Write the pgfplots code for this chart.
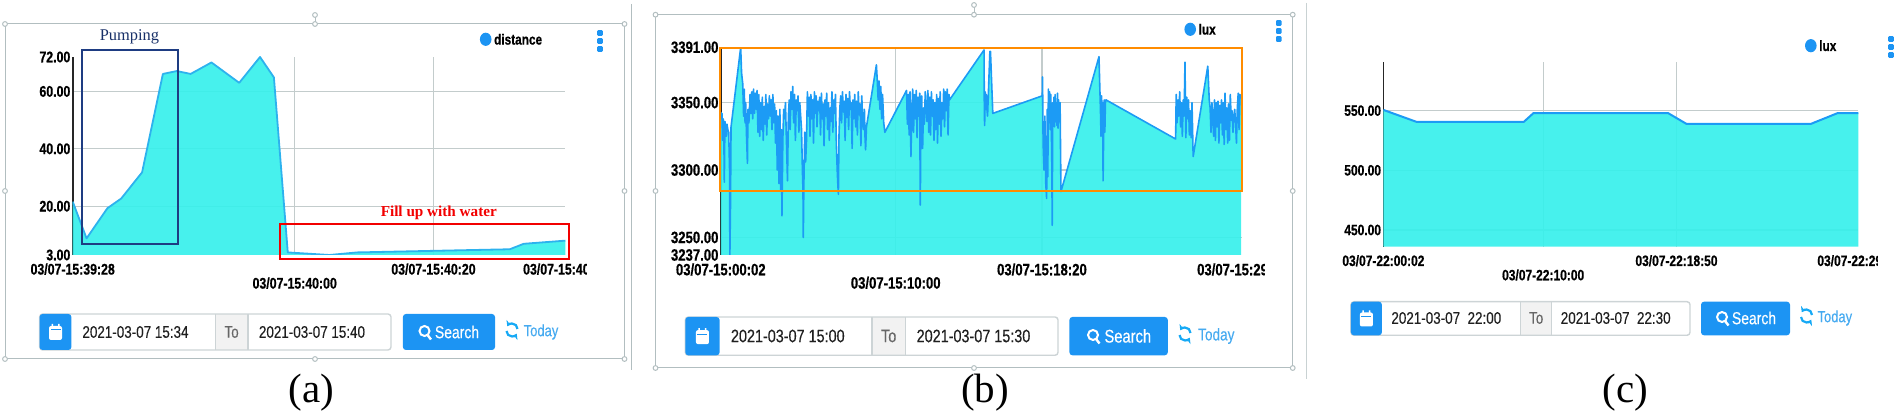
\documentclass[border=0pt]{standalone}
\usepackage{fontspec}
\usepackage{pgfplots}
\usepackage{pgfplotstable}
\pgfplotsset{compat=1.18}
\usetikzlibrary{arrows.meta}
\setmainfont{Liberation Serif}
\newfontfamily\ui[FakeStretch=0.8,FakeBold=0.25]{Liberation Sans}
\newfontfamily\uib[FakeStretch=0.8,BoldFeatures={FakeBold=0.6}]{Liberation Sans}
\definecolor{areafill}{RGB}{55,240,235}
\definecolor{lineb}{RGB}{28,155,245}
\definecolor{linea}{RGB}{45,178,238}
\definecolor{uiblue}{RGB}{28,148,243}
\definecolor{todayblue}{RGB}{70,170,240}
\definecolor{gridc}{RGB}{195,204,204}
\definecolor{framec}{RGB}{178,190,192}
\definecolor{borderc}{RGB}{205,212,214}
\definecolor{pumpc}{RGB}{30,60,130}

\pgfplotstableread[row sep=crcr]{
x y\\
0 21.6\\2 8.8\\5 19.3\\7 22.7\\10 31.8\\13 66.1\\15 67.1\\17 66.1\\20 70.1\\24 63.0\\27 72\\29 64.9\\31 3.9\\37 3\\41 3.9\\63 5.0\\65 6.9\\71 8.0\\
}\distancedata

\pgfplotstableread[row sep=crcr]{
x y\\
0 3343\\2 3338\\4 3342\\6 3322\\8 3338\\10 3335\\12 3291\\14 3336\\17 3331\\19 3325\\21 3334\\24 3330\\27 3328\\30 3300\\31 3237\\33 3272\\35 3332\\
68 3391\\71 3372\\75 3364\\78 3340\\80 3360\\83 3335\\85 3350\\88 3325\\91 3305\\93 3345\\96 3335\\100 3356\\103 3342\\106 3358\\109 3338\\112 3360\\115 3342\\118 3357\\121 3345\\124 3359\\127 3328\\130 3356\\133 3325\\136 3350\\139 3330\\142 3354\\145 3322\\148 3347\\151 3334\\154 3356\\157 3326\\160 3349\\163 3338\\166 3355\\169 3340\\172 3352\\175 3330\\178 3356\\181 3335\\184 3349\\187 3320\\190 3344\\193 3300\\196 3340\\199 3290\\202 3345\\205 3285\\207 3330\\209 3266\\212 3322\\215 3345\\218 3338\\221 3350\\224 3325\\228 3292\\231 3340\\234 3352\\237 3330\\240 3358\\243 3345\\246 3362\\249 3335\\252 3356\\255 3322\\258 3352\\261 3344\\264 3355\\267 3328\\270 3350\\273 3340\\276 3330\\279 3300\\281 3284\\282 3250\\284 3290\\287 3328\\290 3306\\293 3322\\296 3358\\
299 3340\\302 3354\\305 3325\\308 3356\\311 3338\\314 3352\\317 3320\\320 3358\\323 3342\\326 3355\\329 3332\\332 3351\\335 3344\\338 3354\\341 3326\\344 3357\\347 3338\\350 3349\\353 3318\\356 3352\\359 3340\\362 3357\\365 3330\\368 3350\\371 3322\\374 3346\\377 3336\\380 3358\\383 3328\\386 3352\\389 3342\\392 3356\\395 3320\\398 3300\\400 3290\\402 3282\\404 3325\\407 3346\\410 3355\\413 3335\\416 3358\\419 3343\\422 3351\\425 3322\\428 3356\\431 3339\\434 3353\\437 3330\\440 3358\\443 3345\\446 3350\\449 3316\\452 3352\\455 3338\\458 3356\\461 3332\\464 3351\\467 3326\\470 3358\\473 3341\\476 3349\\479 3318\\482 3355\\485 3336\\488 3330\\491 3345\\493 3325\\495 3315\\
498 3332\\532 3378\\535 3366\\538 3352\\541 3366\\544 3345\\547 3362\\550 3338\\553 3356\\557 3335\\561 3328\\
635 3359\\638 3334\\641 3356\\644 3326\\647 3358\\650 3310\\653 3342\\656 3360\\659 3328\\662 3356\\665 3338\\668 3359\\671 3324\\674 3354\\677 3340\\680 3357\\682 3274\\684 3332\\687 3355\\690 3316\\693 3346\\696 3334\\699 3358\\702 3346\\705 3336\\708 3359\\711 3328\\714 3354\\717 3326\\720 3358\\723 3340\\726 3352\\729 3322\\732 3350\\735 3330\\738 3356\\741 3320\\744 3353\\747 3334\\750 3358\\753 3325\\756 3350\\759 3338\\762 3360\\765 3332\\768 3358\\771 3344\\774 3360\\777 3326\\780 3356\\782 3352\\
900 3389\\901 3345\\902 3333\\904 3358\\906 3345\\908 3356\\910 3345\\912 3340\\920 3388\\922 3388\\930 3342\\
1099 3355\\1100 3369\\1102 3320\\1105 3300\\1108 3340\\1111 3290\\1114 3279\\1116 3345\\1118 3295\\1120 3360\\1122 3340\\1124 3358\\1126 3330\\1128 3356\\1130 3335\\1132 3300\\1133 3259\\1135 3350\\1137 3335\\1139 3354\\1141 3332\\1143 3356\\1145 3336\\1147 3350\\1149 3333\\1151 3357\\1153 3331\\1155 3352\\1157 3336\\1160 3350\\1163 3284\\
1293 3384\\1296 3360\\1298 3345\\1300 3325\\1302 3355\\1304 3330\\1306 3350\\1307 3292\\1309 3328\\1311 3352\\1313 3328\\1315 3350\\1317 3352\\
1555 3323\\1557 3356\\1560 3335\\1563 3352\\1566 3340\\1569 3358\\1572 3332\\1575 3350\\1578 3325\\1581 3352\\1584 3340\\1587 3380\\1590 3324\\1593 3354\\1596 3338\\1599 3352\\1602 3326\\1605 3344\\1608 3324\\1611 3350\\1615 3310\\
1665 3377\\1670 3352\\1673 3346\\1676 3328\\1679 3350\\1682 3340\\1685 3325\\1688 3352\\1691 3322\\1694 3350\\1697 3332\\1700 3351\\1703 3320\\1706 3348\\1709 3335\\1712 3352\\1715 3326\\1718 3350\\1721 3319\\1724 3357\\1727 3330\\1730 3346\\1733 3320\\1736 3349\\1739 3322\\1742 3356\\1745 3337\\1748 3344\\1751 3328\\1754 3340\\1757 3345\\1760 3335\\1763 3320\\1766 3346\\1769 3357\\1772 3330\\1775 3356\\1779 3353\\
}\luxday

\pgfplotstableread[row sep=crcr]{
x y\\
0 550.6\\125 540.5\\525 540.5\\562 548\\1065 548\\1135 538.8\\1599 538.8\\1701 548\\1778 548\\
}\luxnight

\pgfplotsset{
  panel/.style={
    scale only axis, anchor=south west,
    axis x line*=bottom, axis y line*=left,
    x axis line style={draw=none},
    y axis line style={draw=black!85, line width=0.8pt, -},
    major tick length=0pt, tick style={draw=none},
    grid=major, grid style={gridc, line width=0.6pt},
    extra x tick style={grid=none}, extra y tick style={grid=none},
    /pgf/number format/assume math mode=true,
    /pgf/number format/fixed, /pgf/number format/zerofill,
    /pgf/number format/precision=2, /pgf/number format/1000 sep={},
    xticklabel style={inner sep=0pt, yshift=-4pt, align=center},
    yticklabel style={inner sep=0pt, xshift=-1pt},
    clip=true,
  },
  areafillstyle/.style={fill=areafill, fill opacity=0.92, draw=none},
}
\newcommand{\low}[1]{\rule{0pt}{12.6pt}#1}

% small page furniture, pixel coords
\newcommand{\vdotsmenu}[2]{%
  \foreach \d in {-8,0,8}{\fill[uiblue, rounded corners=0.5pt] (#1-2.8,#2+\d-2.8) rectangle (#1+2.8,#2+\d+2.8);}}
\newcommand{\legenddot}[3]{%
  \fill[uiblue] (#1,#2) ellipse (5.8 and 6.6);
  \node[anchor=west, inner sep=0pt, text=black, font=\uib\bfseries\fontsize{7.4}{8}\selectfont] at (#1+8,#2) {#3};}
% x0 calR toL toR inputR btnL btnR yT yB
\newcommand{\searchbar}[9]{%
  \fill[white] (#1,#8) rectangle (#5,#9);
  \fill[black!5] (#3,#8) rectangle (#4,#9);
  \draw[borderc, line width=0.7pt, rounded corners=1.5pt] (#1,#8) rectangle (#5,#9);
  \draw[borderc, line width=0.7pt] (#3,#8) -- (#3,#9) (#4,#8) -- (#4,#9);
  \fill[uiblue, rounded corners=1.5pt] (#1,#8) rectangle (#2,#9);
  \fill[uiblue, rounded corners=1.5pt] (#6,#8) rectangle (#7,#9);
  \pgfmathsetmacro\cx{(#1+#2)/2}\pgfmathsetmacro\cy{(#8+#9)/2}
  \fill[white, rounded corners=1pt] (\cx-6.5,\cy-6) rectangle (\cx+6.5,\cy+8);
  \fill[uiblue] (\cx-5,\cy-2.5) rectangle (\cx+5,\cy+6.5);
  \fill[white] (\cx-4,\cy-8) rectangle (\cx-2.5,\cy-4) (\cx+2.5,\cy-8) rectangle (\cx+4,\cy-4);
  \fill[white] (\cx-5,\cy-1.5) rectangle (\cx+5,\cy+6.5);
}
\newcommand{\magnifier}[2]{%
  \draw[white, line width=1pt] (#1,#2-1) circle (5);
  \draw[white, line width=1.2pt] (#1+3.2,#2+3.2) -- (#1+6.5,#2+7.5);}
\newcommand{\refresh}[2]{%
  \draw[uiblue!80!cyan, line width=1.1pt, -{Stealth[length=2.6pt,width=3.8pt]}] (#1-5.5,#2+1) arc[start angle=180, end angle=330, x radius=5.5, y radius=-5.5];
  \draw[uiblue!80!cyan, line width=1.1pt, -{Stealth[length=2.6pt,width=3.8pt]}] (#1+5.5,#2-1) arc[start angle=0, end angle=150, x radius=5.5, y radius=-5.5];}

\begin{document}
\begin{tikzpicture}
\path[use as bounding box] (0,0) rectangle (949pt,208pt);

% panel (a)
\begin{axis}[panel, at={(36.35pt,80.5pt)}, width=246.3pt, height=99pt,
    xmin=0, xmax=71, ymin=3, ymax=72,
    xtick={32,52}, xticklabels={\low{03/07-15:40:00},03/07-15:40:20},
    extra x ticks={0,71}, extra x tick labels={03/07-15:39:28,03/07-15:40:39},
    ytick={20,40,60}, extra y ticks={3,72},
    ticklabel style={font=\uib\bfseries\fontsize{7.7}{8}\selectfont, text=black}]
  \addplot[areafillstyle] table {\distancedata} \closedcycle;
  \addplot[linea, line width=0.9pt, line join=round] table {\distancedata};
\end{axis}

% panel (b)
\begin{axis}[panel, at={(360.4pt,80.5pt)}, width=260.6pt, height=103.85pt,
    xmin=0, xmax=1782, ymin=3237, ymax=3391,
    xtick={598,1098}, xticklabels={\low{03/07-15:10:00},03/07-15:18:20},
    extra x ticks={0,1782}, extra x tick labels={03/07-15:00:02,03/07-15:29:44},
    ytick={3250,3300,3350}, extra y ticks={3237,3391},
    ticklabel style={font=\uib\bfseries\fontsize{8.2}{8}\selectfont, text=black}]
  \addplot[areafillstyle] table {\luxday} \closedcycle;
  \addplot[lineb, line width=0.8pt, line join=round] table {\luxday};
\end{axis}

% panel (c)
\begin{axis}[panel, at={(691.7pt,84.65pt)}, width=237.5pt, height=92.2pt,
    xmin=0, xmax=1778, ymin=436, ymax=590.5,
    xtick={598,1097}, xticklabels={\low{03/07-22:10:00},03/07-22:18:50},
    extra x ticks={0,1778}, extra x tick labels={03/07-22:00:02,03/07-22:29:40},
    ytick={450,500,550},
    ticklabel style={font=\uib\bfseries\fontsize{7.5}{8}\selectfont, text=black}]
  \addplot[areafillstyle] table {\luxnight} \closedcycle;
  \addplot[lineb, line width=1pt, line join=round] table {\luxnight};
\end{axis}

% everything else in reference pixels, origin top left
\begin{scope}[yshift=208pt, x=0.5pt, y=-0.5pt]
  % cut-off last tick labels
  \fill[white] (586.5,258) rectangle (612,278);
  \fill[white] (1264.5,258) rectangle (1288,278);
  \fill[white] (1877.8,250) rectangle (1898,270);

  % selection frames
  \draw[framec, line width=0.5pt] (5,24) rectangle (624.5,359);
  \draw[framec, line width=0.5pt] (315,15) -- (315,24);
  \draw[framec, line width=0.5pt] (631,4) -- (631,370);
  \foreach \p in {(5,24),(315,24),(624.5,24),(5,191),(624.5,191),(5,359),(315,359),(624.5,359),(315,15)}{
    \draw[framec, fill=white, line width=0.5pt] \p circle (2.4);}
  \draw[framec, line width=0.5pt] (655.5,14.7) rectangle (1292.7,368);
  \draw[framec, line width=0.5pt] (974,5) -- (974,14.7);
  \draw[framec!70, line width=0.5pt] (1306.3,3) -- (1306.3,379);
  \foreach \p in {(655.5,14.7),(974,14.7),(655.5,191),(1292.7,14.7),(1292.7,191),(1292.7,368),(655.5,368),(974,368),(974,5)}{
    \draw[framec, fill=white, line width=0.5pt] \p circle (2.4);}

  % annotation boxes
  \draw[pumpc, line width=0.9pt] (82,50) rectangle (177.6,244);
  \node[text=pumpc!80!black, font=\fontsize{8.2}{9}\selectfont] at (129.4,37) {Pumping};
  \draw[red!95!black, line width=1pt] (280.4,223.7) rectangle (569.4,258.7);
  \node[text=red!95!black, font=\bfseries\fontsize{7.6}{9}\selectfont] at (438.8,212.7) {Fill up with water};
  \draw[orange!90!yellow, line width=1pt] (720.4,47.7) rectangle (1242,191.3);

  % legends and menus
  \legenddot{485.7}{39.3}{distance}
  \vdotsmenu{600}{41}
  \legenddot{1190.2}{29.3}{lux}
  \vdotsmenu{1278.8}{31}
  \legenddot{1810.8}{45.7}{lux}
  \vdotsmenu{1891}{47}

  % search bars
  \searchbar{39.6}{71.4}{215.5}{247.8}{391}{402.9}{495}{314}{350}
  \searchbar{685.3}{719.6}{871.8}{905.7}{1058}{1069.4}{1167.8}{317}{355.3}
  \searchbar{1350.9}{1381.9}{1520.7}{1551.7}{1690}{1701}{1790}{301.7}{335.3}

  \begin{scope}[every node/.style={inner sep=0pt, text=black!88, font=\ui\fontsize{8.4}{9}\selectfont}]
    \node at (135.5,332) {2021-03-07 15:34};
    \node at (312,332) {2021-03-07 15:40};
    \node at (787.8,336) {\fontsize{9}{9}\selectfont 2021-03-07 15:00};
    \node at (973.5,336) {\fontsize{9}{9}\selectfont 2021-03-07 15:30};
    \node at (1446.3,318) {2021-03-07\ \ 22:00};
    \node at (1615.7,318) {2021-03-07\ \ 22:30};
    \node[text=black!60] at (231.6,332) {To};
    \node[text=black!60] at (888.7,336) {\fontsize{9}{9}\selectfont To};
    \node[text=black!60] at (1536.2,318) {To};
    \node[text=white, font=\ui\fontsize{8.7}{9}\selectfont] at (457,332) {Search};
    \node[text=white, font=\ui\fontsize{9.2}{9}\selectfont] at (1127.8,336) {Search};
    \node[text=white, font=\ui\fontsize{8.7}{9}\selectfont] at (1754,318) {Search};
    \node[text=todayblue, font=\ui\fontsize{8.1}{9}\selectfont] at (541,332) {Today};
    \node[text=todayblue, font=\ui\fontsize{8.5}{9}\selectfont] at (1216.3,336) {Today};
    \node[text=todayblue, font=\ui\fontsize{8.1}{9}\selectfont] at (1834.8,318) {Today};
  \end{scope}
  \magnifier{424.5}{332}
  \magnifier{1093}{336}
  \magnifier{1722}{318}
  \refresh{512}{330}
  \refresh{1185}{334}
  \refresh{1806.5}{316}

  % captions
  \node[font=\fontsize{20.5}{22}\selectfont] at (311.4,393) {(a)};
  \node[font=\fontsize{20.5}{22}\selectfont] at (985,393) {(b)};
  \node[font=\fontsize{20.5}{22}\selectfont] at (1625.4,393) {(c)};
\end{scope}
\end{tikzpicture}
\end{document}
